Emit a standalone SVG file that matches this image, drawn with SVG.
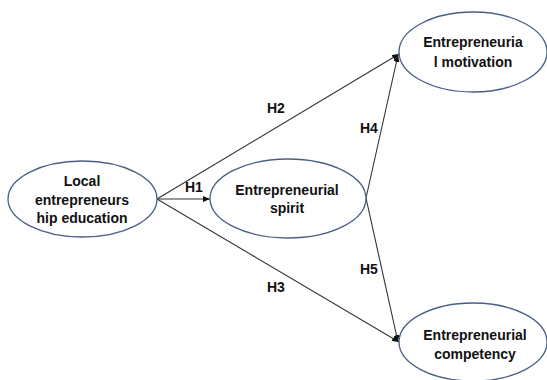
<svg xmlns="http://www.w3.org/2000/svg" width="547" height="380" viewBox="0 0 547 380">
<defs>
<marker id="arr" markerWidth="7" markerHeight="6" refX="7" refY="3" orient="auto" markerUnits="userSpaceOnUse">
<path d="M0,0 L7,3 L0,6 Z" fill="#111"/>
</marker>
<style>
.node ellipse{fill:#fff;stroke:#4a5f86;stroke-width:1.3}
.node text{font-family:"Liberation Sans",Arial,sans-serif;font-weight:bold;font-size:14px;fill:#111;text-anchor:middle}
.edge line{stroke:#333;stroke-width:1.1;marker-end:url(#arr)}
.lbl{font-family:"Liberation Sans",Arial,sans-serif;font-size:14px;fill:#111;font-weight:bold}
</style>
</defs>
<rect width="547" height="380" fill="#fff"/>
<g id="connectors" class="edge">
<line x1="157" y1="199" x2="399" y2="54"/>
<line x1="157" y1="199" x2="210" y2="199"/>
<line x1="157" y1="199" x2="399" y2="342"/>
<line x1="366" y1="198" x2="398" y2="55"/>
<line x1="366" y1="198" x2="398" y2="342"/>
</g>
<g id="labels">
<text class="lbl" x="267" y="113">H2</text>
<text class="lbl" x="185" y="192">H1</text>
<text class="lbl" x="360" y="133">H4</text>
<text class="lbl" x="360" y="274">H5</text>
<text class="lbl" x="267" y="292">H3</text>
</g>
<g id="node-education" class="node">
<ellipse cx="82.5" cy="199" rx="74.5" ry="38"/>
<text x="82" y="186">Local</text>
<text x="82" y="204.5">entrepreneurs</text>
<text x="82" y="223">hip education</text>
</g>
<g id="node-spirit" class="node">
<ellipse cx="288" cy="198.5" rx="78" ry="39.5"/>
<text x="287" y="195">Entrepreneurial</text>
<text x="287" y="213">spirit</text>
</g>
<g id="node-motivation" class="node">
<ellipse cx="473" cy="52" rx="74" ry="40"/>
<text x="473" y="47">Entrepreneuria</text>
<text x="473" y="67">l motivation</text>
</g>
<g id="node-competency" class="node">
<ellipse cx="473" cy="342" rx="74" ry="39"/>
<text x="475" y="340">Entrepreneurial</text>
<text x="475" y="359">competency</text>
</g>
</svg>
